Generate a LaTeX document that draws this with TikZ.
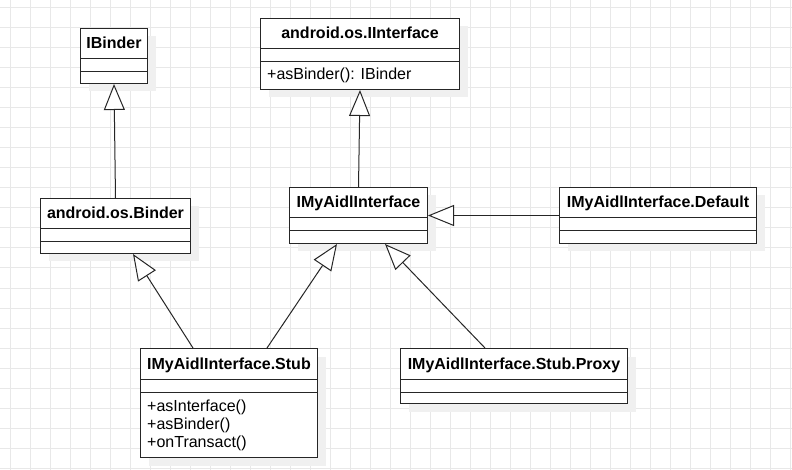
\documentclass[tikz,border=0pt]{standalone}
\usepackage{fontspec}
\setmainfont{Liberation Sans}
\usetikzlibrary{arrows.meta,shadows,calc}

\begin{document}
\begin{tikzpicture}[x=1pt, y=-1pt,
    gridline/.style={draw=black!9, line width=1pt},
    class/.style={draw=black!85, line width=1pt, fill=white, inner sep=0pt, anchor=north west,
        drop shadow={shadow xshift=8pt, shadow yshift=-8pt, fill=black!6, opacity=1}},
    classname/.style={font=\bfseries\fontsize{16}{18}\selectfont, anchor=base, inner sep=0pt},
    member/.style={font=\fontsize{16}{18}\selectfont, anchor=base west, inner sep=0pt},
    sep/.style={draw=black!85, line width=1pt},
    extends/.style={draw=black!85, line width=1pt, -{Triangle[length=26pt, width=21pt, fill=white]}}]

    \useasboundingbox (0,0) rectangle (792,470);
    \fill[white] (0,0) rectangle (792,470);
    \foreach \gx in {10,30,...,790}
        \draw[gridline] (\gx,0) -- (\gx,470);
    \foreach \gy in {8,28,...,468}
        \draw[gridline] (0,\gy) -- (792,\gy);

    \node [class, minimum width=67, minimum height=55] (ibinder) at (80,28) {};
    \node [class, minimum width=199, minimum height=71] (iinterface) at (260,18) {};
    \node [class, minimum width=150, minimum height=55] (binder) at (40,198) {};
    \node [class, minimum width=138, minimum height=56] (aidl) at (289,187) {};
    \node [class, minimum width=197, minimum height=56] (default) at (559,187) {};
    \node [class, minimum width=177, minimum height=109] (stub) at (140,348) {};
    \node [class, minimum width=227, minimum height=55] (proxy) at (400,348) {};

    \foreach \c/\t in {ibinder/IBinder, iinterface/android.os.IInterface, binder/android.os.Binder,
        aidl/IMyAidlInterface, default/IMyAidlInterface.Default, stub/IMyAidlInterface.Stub,
        proxy/IMyAidlInterface.Stub.Proxy} {
        \node [classname] (\c-name) at ($(\c.north)+(0,21)$) {\t};
        \draw [sep] ($(\c.north west)+(0,31)$) -- ($(\c.north east)+(0,31)$);
        \draw [sep] ($(\c.north west)+(0,44)$) -- ($(\c.north east)+(0,44)$);
    }

    \node [member] (iinterface-m1) at ($(iinterface.north west)+(7,62)$) {+asBinder(): IBinder};
    \node [member] (stub-m1) at ($(stub.north west)+(7,63)$) {+asInterface()};
    \node [member] (stub-m2) at ($(stub.north west)+(7,81)$) {+asBinder()};
    \node [member] (stub-m3) at ($(stub.north west)+(7,99)$) {+onTransact()};

    \draw [extends] (binder.north) -- (ibinder.south);
    \draw [extends] (aidl.north) -- (iinterface.south);
    \draw [extends] (default.west) -- (aidl.east);
    \draw [extends] ([xshift=53pt]stub.north west) -- ([xshift=93pt]binder.south west);
    \draw [extends] ([xshift=127pt]stub.north west) -- ([xshift=48pt]aidl.south west);
    \draw [extends] ([xshift=85pt]proxy.north west) -- ([xshift=96pt]aidl.south west);
\end{tikzpicture}
\end{document}
